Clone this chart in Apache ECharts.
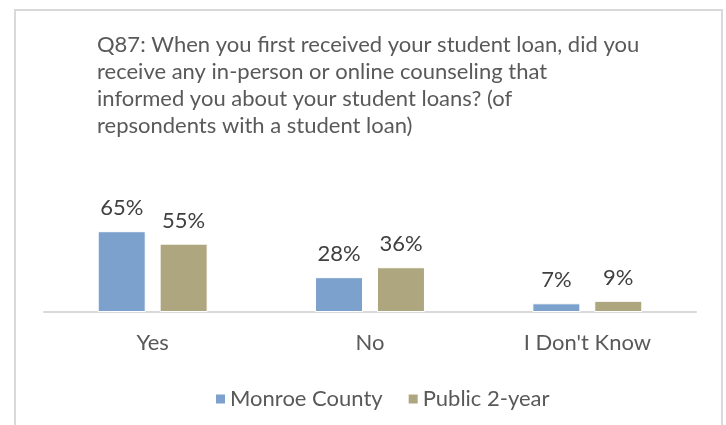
<!DOCTYPE html>
<html>
<head>
<meta charset="utf-8">
<script src="https://cdn.jsdelivr.net/npm/echarts@6/dist/echarts.min.js"></script>
<style>
html,body{margin:0;padding:0;background:#fff;}
#c{width:726px;height:425px;}
</style>
</head>
<body>
<div id="c"></div>
<script>
var titleText = "Q87: When you first received your student loan, did you\nreceive any in-person or online counseling that\ninformed you about your student loans? (of\nrepsondents with a student loan)";
var categories = ["Yes", "No", "I Don't Know"];
var seriesNames = ["Monroe County", "Public 2-year"];
var monroeCounty = [65, 28, 7];
var public2year = [55, 36, 9];

var FONT = "Lato";
var FS = 22;
var chart = echarts.init(document.getElementById('c'), null, {renderer: 'canvas'});
chart.setOption({
  animation: false,
  backgroundColor: '#ffffff',
  textStyle: {fontFamily: FONT},
  graphic: [{
    type: 'rect',
    shape: {x: 15, y: 10, width: 707, height: 430},
    style: {fill: 'none', stroke: '#d9d9d9', lineWidth: 2},
    silent: true
  }],
  title: {
    text: titleText,
    left: 97,
    top: 31,
    padding: 0,
    textStyle: {fontFamily: FONT, fontSize: FS, fontWeight: 'normal', color: '#595959', lineHeight: 27}
  },
  legend: {
    data: seriesNames,
    left: 214,
    top: 388,
    padding: 0,
    itemWidth: 11,
    itemHeight: 11,
    itemGap: 24,
    icon: 'rect',
    textStyle: {fontFamily: FONT, fontSize: FS, color: '#595959', padding: [0, 0, 0, -1]}
  },
  grid: {left: 44, right: 30, top: 225, bottom: 113, containLabel: false},
  xAxis: {
    type: 'category',
    data: categories,
    axisLine: {show: true, lineStyle: {color: '#d9d9d9', width: 2}},
    axisTick: {show: false},
    axisLabel: {fontFamily: FONT, fontSize: FS, color: '#595959', margin: 20}
  },
  yAxis: {
    type: 'value',
    min: 0,
    max: 70,
    show: false,
    splitLine: {show: false}
  },
  series: [{
    name: seriesNames[0],
    type: 'bar',
    data: monroeCounty,
    barWidth: 48,
    barGap: '29%',
    itemStyle: {color: '#7ba1cc', borderColor: '#ffffff', borderWidth: 1},
    label: {show: true, position: 'top', distance: 12, formatter: '{c}%', fontFamily: FONT, fontSize: FS, color: '#404040'}
  }, {
    name: seriesNames[1],
    type: 'bar',
    data: public2year,
    barWidth: 48,
    itemStyle: {color: '#aea67e', borderColor: '#ffffff', borderWidth: 1},
    label: {show: true, position: 'top', distance: 12, formatter: '{c}%', fontFamily: FONT, fontSize: FS, color: '#404040'}
  }]
});
</script>
</body>
</html>
